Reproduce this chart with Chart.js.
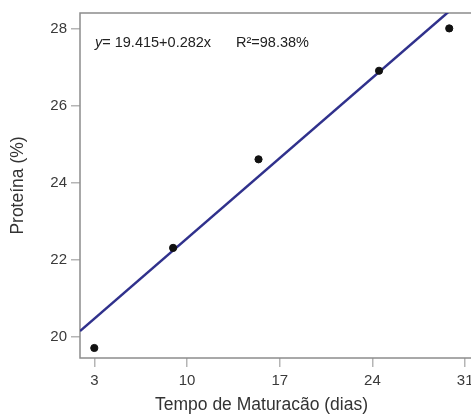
<!DOCTYPE html>
<html>
<head>
<meta charset="utf-8">
<script src="https://cdn.jsdelivr.net/npm/chart.js@4/dist/chart.umd.min.js"></script>
<style>
  html, body { margin: 0; padding: 0; background: #fff; overflow: hidden; }
  #wrap { width: 471px; height: 415px; overflow: hidden; }
</style>
</head>
<body>
<div id="wrap"><canvas id="chart" width="490" height="415"></canvas></div>
<script>
// observed points
const days = [3, 8.95, 15.4, 24.5, 29.8];
const protein = [19.7, 22.3, 24.6, 26.9, 28.0];
// fitted line as drawn
const fitDays = [1.92, 32.5];
const fitProtein = [20.14, 29.25];
// axis ticks
const xTicks = [3, 10, 17, 24, 31];
const yTicks = [20, 22, 24, 26, 28];

const xTitle = "Tempo de Maturacão (dias)";
const yTitle = "Proteína (%)";
const eqText = "= 19.415+0.282x";
const r2Text = "R²=98.38%";

const FONT = "'Liberation Sans', Arial, sans-serif";

// frame, equation and x title
const extras = {
  id: "extras",
  beforeDatasetsDraw(chart) {
    const { ctx, chartArea } = chart;
    ctx.save();
    ctx.strokeStyle = "#8c8c8c";
    ctx.lineWidth = 1.5;
    ctx.strokeRect(chartArea.left, chartArea.top, chartArea.right - chartArea.left, chartArea.bottom - chartArea.top);
    ctx.restore();
  },
  afterDraw(chart) {
    const { ctx, chartArea } = chart;
    ctx.save();
    ctx.fillStyle = "#222";
    ctx.textBaseline = "middle";
    ctx.textAlign = "left";
    const ty = chartArea.top + 30;
    let tx = chartArea.left + 15;
    ctx.font = "italic 14.5px " + FONT;
    ctx.fillText("y", tx, ty);
    tx += ctx.measureText("y").width;
    ctx.font = "14.5px " + FONT;
    ctx.fillText(eqText, tx, ty);
    ctx.fillText(r2Text, chartArea.left + 156, ty);

    ctx.font = "17.5px " + FONT;
    ctx.fillStyle = "#333";
    ctx.textAlign = "center";
    ctx.fillText(xTitle, (chartArea.left + chartArea.right) / 2 - 21, 405);
    ctx.restore();
  }
};

new Chart(document.getElementById("chart"), {
  type: "scatter",
  data: {
    datasets: [
      {
        label: "Proteína",
        data: days.map((d, i) => ({ x: d, y: protein[i] })),
        backgroundColor: "#111",
        borderColor: "#111",
        pointRadius: 3.6,
        pointHoverRadius: 3.6,
      },
      {
        type: "line",
        label: "fit",
        data: fitDays.map((d, i) => ({ x: d, y: fitProtein[i] })),
        borderColor: "#30318c",
        borderWidth: 2.5,
        pointRadius: 0,
        fill: false,
        clip: 0,
      },
    ],
  },
  options: {
    responsive: false,
    animation: false,
    events: [],
    layout: { padding: { top: 12, right: 5, left: 0, bottom: 0 } },
    plugins: { legend: { display: false }, tooltip: { enabled: false } },
    scales: {
      x: {
        type: "linear",
        min: 1.92,
        max: 32.5,
        afterBuildTicks: (scale) => { scale.ticks = xTicks.map((v) => ({ value: v })); },
        afterFit: (scale) => { scale.height = 57; },
        border: { display: false },
        grid: { drawOnChartArea: false, drawTicks: true, tickLength: 9, color: "#b5b5b5", lineWidth: 1.5 },
        ticks: { color: "#3a3a3a", padding: 5, font: { family: FONT, size: 15 }, maxRotation: 0 },
        title: { display: false },
      },
      y: {
        min: 19.44,
        max: 28.4,
        afterBuildTicks: (scale) => { scale.ticks = yTicks.map((v) => ({ value: v })); },
        afterFit: (scale) => { scale.width = 80; },
        border: { display: false },
        grid: { drawOnChartArea: false, drawTicks: true, tickLength: 9, color: "#b5b5b5", lineWidth: 1.5 },
        ticks: { color: "#3a3a3a", padding: 4, font: { family: FONT, size: 15 } },
        title: { display: true, text: yTitle, color: "#333", font: { family: FONT, size: 17.5 }, padding: { top: 8, bottom: 0 } },
      },
    },
  },
  plugins: [extras],
});
</script>
</body>
</html>
